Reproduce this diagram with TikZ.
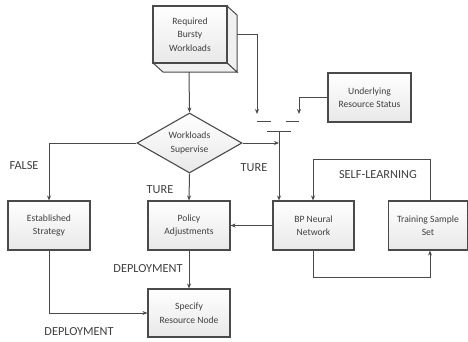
\documentclass[tikz,border=0pt]{standalone}
\usepackage{fontspec}
\setmainfont{Carlito}
\usetikzlibrary{shapes.geometric,arrows.meta,calc}
\definecolor{ln}{HTML}{4A4A4A}
\definecolor{tx}{HTML}{404040}
\begin{document}
\begin{tikzpicture}[x=1pt,y=-1pt,
  box/.style={draw=ln,line width=1.1pt,top color=white,bottom color=gray!18,
    minimum width=82pt,minimum height=49pt,inner sep=0pt,align=center,
    font=\fontsize{9.6}{13.5}\selectfont,text=tx},
  dec/.style={diamond,draw=ln,line width=1.1pt,top color=white,bottom color=gray!18,
    minimum width=105pt,minimum height=60pt,inner sep=0pt,aspect=1.75,align=center,
    font=\fontsize{9.6}{13.5}\selectfont,text=tx},
  conn/.style={draw=ln,line width=1pt},
  arr/.style={conn,-{Stealth[length=5pt,width=4pt]}},
  lab/.style={font=\fontsize{12.3}{14}\selectfont,text=tx,inner sep=0pt}]
\useasboundingbox (0,0) rectangle (468,341);
% cube
\fill[gray!12,draw=ln,line width=1pt] (227,6) -- (237,15) -- (237,72) -- (227,63) -- cycle;
\fill[gray!12,draw=ln,line width=1pt] (153,63) -- (163,72) -- (237,72) -- (227,63) -- cycle;
\node[box,minimum width=74pt,minimum height=57pt] (req) at (190,34.5) {Required\\Bursty\\Workloads};
\coordinate (reqb) at (189,72);
\coordinate (reqr) at (237,34);
\node[box,minimum width=83pt] (und) at (369.5,97.5) {Underlying\\Resource Status};
\node[dec] (sup) at (189.5,143) {Workloads\\Supervise};
\node[box] (est) at (49,225.5) {Established\\Strategy};
\node[box] (pol) at (189,225.5) {Policy\\Adjustments};
\node[box,minimum width=81pt] (bp) at (313.5,225.5) {BP Neural\\Network};
\node[box,minimum width=79pt] (tr) at (428,225.5) {Training Sample\\Set};
\node[box,minimum height=48pt] (spec) at (189,313) {Specify\\Resource Node};
% gate
\coordinate (ga) at (257,114);
\coordinate (gb) at (299,114);
\coordinate (gc) at (279,131);
\draw[arr] (reqb) -- (sup.north);
\draw[arr] (reqr) -| (ga);
\draw[arr] (und.west |- 0,97) -| (gb);
\draw[conn] (257,121) -- (271,121);
\draw[conn] (286,121) -- (299,121);
\draw[conn] (267,131) -- (291,131);
\draw[arr] (gc) -- (gc |- bp.north);
\draw[arr] (sup.east) -- (gc |- sup.east);
\draw[arr] (sup.west) -| (est.north);
\draw[arr] (sup.south) -- (pol.north);
\draw[arr] (bp.west) -- (pol.east);
\draw[arr] (430,0 |- tr.north) |- (313,159) -- (313,0 |- bp.north);
\draw[arr] (313,0 |- bp.south) |- (430,277) -- (430,0 |- tr.south);
\draw[arr] (pol.south) -- (spec.north);
\draw[arr] (est.south) |- (spec.west);
% labels
\node[lab] (l1) at (24,166) {FALSE};
\node[lab] (l2) at (160,190) {TURE};
\node[lab] (l3) at (254,168) {TURE};
\node[lab] (l4) at (378,175) {SELF-LEARNING};
\node[lab] (l5) at (148,269) {DEPLOYMENT};
\node[lab] (l6) at (79,332) {DEPLOYMENT};
\end{tikzpicture}
\end{document}
